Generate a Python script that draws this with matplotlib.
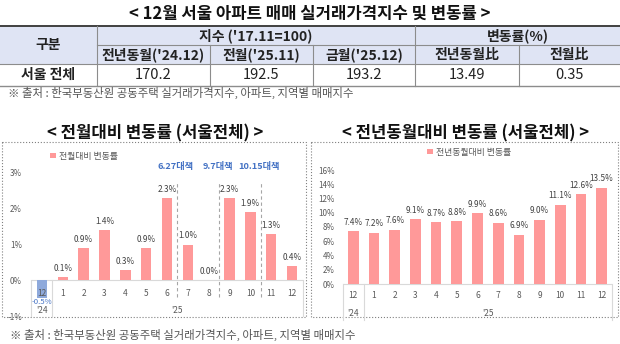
import matplotlib.pyplot as plt
from matplotlib.patches import Rectangle, Patch

plt.rcParams['font.family'] = ['Noto Sans CJK KR', 'DejaVu Sans']

# ---- data ----
months = ['12', '1', '2', '3', '4', '5', '6', '7', '8', '9', '10', '11', '12']
years = ["'24", "'25"]
mom_change = [-0.5, 0.1, 0.9, 1.4, 0.3, 0.9, 2.3, 1.0, 0.0, 2.3, 1.9, 1.3, 0.4]
yoy_change = [7.4, 7.2, 7.6, 9.1, 8.7, 8.8, 9.9, 8.6, 6.9, 9.0, 11.1, 12.6, 13.5]
policy_names = ['6.27대책', '9.7대책', '10.15대책']
policy_after = [6, 8, 10]   # index of the month right before each policy line

table_title = '< 12월 서울 아파트 매매 실거래가격지수 및 변동률 >'
table_groups = ["지수 ('17.11=100)", '변동률(%)']
table_cols = ["전년동월('24.12)", "전월('25.11)", "금월('25.12)", '전년동월比', '전월比']
table_row_label = '서울 전체'
table_values = ['170.2', '192.5', '193.2', '13.49', '0.35']
source_note = '※ 출처 : 한국부동산원 공동주택 실거래가격지수, 아파트, 지역별 매매지수'

PINK = '#FF9999'
BLUE_BAR = '#8EA9DB'
BLUE_TXT = '#4472C4'
GRAY_TXT = '#595959'
LINE = '#D9D9D9'

W, H = 620, 344
fig = plt.figure(figsize=(W / 100, H / 100), dpi=100)

# full-figure overlay in pixel coords (y down) for table, titles, boxes
ov = fig.add_axes([0, 0, 1, 1])
ov.set_xlim(0, W)
ov.set_ylim(H, 0)
ov.axis('off')


def px_axes(x0, y0, x1, y1):
    ax = fig.add_axes([x0 / W, 1 - y1 / H, (x1 - x0) / W, (y1 - y0) / H])
    ax.patch.set_visible(False)
    return ax


def px(n):  # pixels -> points
    return n * 0.72


# ---- table ----
ov.text(310, 14, table_title, ha='center', va='center', fontsize=12, fontweight='bold', color='#111111')
col_edges = [0, 97, 210, 313, 415, 519, 620]
r0, r1, r2, r3 = 26, 45, 64, 86
ov.add_patch(Rectangle((0, r0), W, r2 - r0, facecolor='#DFE4F4', edgecolor='none'))
ov.plot([0, W], [r0, r0], color='#404040', lw=1.4)
ov.plot([97, W], [r1, r1], color='#8C8C8C', lw=0.8)
ov.plot([0, W], [r2, r2], color='#8C8C8C', lw=0.8)
ov.plot([0, W], [r3, r3], color='#8C8C8C', lw=1.0)
for x in [97, 415]:
    ov.plot([x, x], [r0, r3], color='#8C8C8C', lw=0.8)
for x in [210, 313, 519]:
    ov.plot([x, x], [r1, r3], color='#8C8C8C', lw=0.8)

hdr = dict(ha='center', va='center', fontsize=10, fontweight='bold', color='#222222')
ov.text(48.5, (r0 + r2) / 2, '구분', **hdr)
ov.text((97 + 415) / 2, (r0 + r1) / 2, table_groups[0], **hdr)
ov.text((415 + 620) / 2, (r0 + r1) / 2, table_groups[1], **hdr)
for i, (name, val) in enumerate(zip(table_cols, table_values)):
    cx = (col_edges[i + 1] + col_edges[i + 2]) / 2
    ov.text(cx, (r1 + r2) / 2, name, **hdr)
    ov.text(cx, (r2 + r3) / 2, val, ha='center', va='center', fontsize=10.5, color='#222222')
ov.text(48.5, (r2 + r3) / 2, table_row_label, **hdr)
ov.text(8, 93, source_note, ha='left', va='center', fontsize=8.2, color='#555555')

# ---- chart boxes and titles ----
ov.add_patch(Rectangle((2, 142), 304, 175, facecolor='none', edgecolor='#808080', lw=0.8, ls=':'))
ov.add_patch(Rectangle((311, 142), 307, 175, facecolor='none', edgecolor='#808080', lw=0.8, ls=':'))
ov.text(155.5, 133, '< 전월대비 변동률 (서울전체) >', ha='center', va='center', fontsize=12, fontweight='bold', color='#111111')
ov.text(466, 133, '< 전년동월대비 변동률 (서울전체) >', ha='center', va='center', fontsize=12, fontweight='bold', color='#111111')
ov.text(10, 335, source_note, ha='left', va='center', fontsize=8.2, color='#555555')


def category_axis(ax, lab_off, year_off):
    n = len(months)
    ax.axhline(0, color=LINE, lw=0.8, zorder=1)
    ybot = ax.get_ylim()[0]
    for x in [-0.5, 0.5, n - 0.5]:
        ax.plot([x, x], [0, ybot], color=LINE, lw=0.8, zorder=1, clip_on=False)
    for i, m in enumerate(months):
        ax.annotate(m, (i, 0), xytext=(0, -px(lab_off)), textcoords='offset points',
                    ha='center', va='center', fontsize=6, color=GRAY_TXT, zorder=4)
    ax.annotate(years[0], (0, 0), xytext=(0, -px(year_off)), textcoords='offset points',
                ha='center', va='center', fontsize=6, color=GRAY_TXT)
    ax.annotate(years[1], (n / 2, 0), xytext=(0, -px(year_off)), textcoords='offset points',
                ha='center', va='center', fontsize=6, color=GRAY_TXT)
    ax.set_xlim(-0.5, n - 0.5)
    ax.set_xticks([])
    for s in ax.spines.values():
        s.set_visible(False)


# ---- left chart: month-on-month ----
ax1 = px_axes(31.5, 173, 302.5, 316)
ax1.set_ylim(-1, 3)
x = list(range(len(months)))
colors = [BLUE_BAR if v < 0 else PINK for v in mom_change]
ax1.bar(x, mom_change, width=0.5, color=colors, zorder=2)
category_axis(ax1, 13, 30)
ax1.set_yticks([-1, 0, 1, 2, 3])
ax1.set_yticklabels(['-1%', '0%', '1%', '2%', '3%'])
ax1.tick_params(axis='y', length=0, pad=px(9.5), labelsize=5.8, labelcolor=GRAY_TXT)
for i, v in enumerate(mom_change):
    if v < 0:
        ax1.annotate(f'{v:.1f}%', (i, v), xytext=(0, -px(4)), textcoords='offset points',
                     ha='center', va='center', fontsize=5.6, color=BLUE_TXT, zorder=5)
    else:
        ax1.annotate(f'{v:.1f}%', (i, v), xytext=(0, px(8.5)), textcoords='offset points',
                     ha='center', va='center', fontsize=5.9, color='#404040')
for name, p in zip(policy_names, policy_after):
    ax1.plot([p + 0.5, p + 0.5], [-0.48, 2.74], color='#A6A6A6', lw=0.8, ls=(0, (3, 2.5)), zorder=1)
    ax1.annotate(name, (p + 0.5, 3), xytext=(-px(1.5), px(6)), textcoords='offset points',
                 ha='center', va='center', fontsize=6.6, fontweight='bold', color=BLUE_TXT)
ax1.legend(handles=[Patch(facecolor=PINK, label='전월대비 변동률')], loc='center left',
           bbox_to_anchor=(46, 156), bbox_transform=ov.transData, frameon=False,
           handlelength=0.6, handleheight=0.6, handletextpad=0.35, borderpad=0,
           fontsize=6.4, labelcolor=GRAY_TXT)

# ---- right chart: year-on-year ----
top_px, zero_px, bot_px = 170, 284, 320
ax2 = px_axes(343, top_px, 612, bot_px)
ax2.set_ylim(-16 * (bot_px - zero_px) / (zero_px - top_px), 16)
ax2.bar(x, yoy_change, width=0.52, color=PINK, zorder=2)
category_axis(ax2, 12, 29)
ax2.set_yticks(range(0, 17, 2))
ax2.set_yticklabels([f'{t}%' for t in range(0, 17, 2)])
ax2.tick_params(axis='y', length=0, pad=px(8), labelsize=5.8, labelcolor=GRAY_TXT)
for i, v in enumerate(yoy_change):
    ax2.annotate(f'{v:.1f}%', (i, v), xytext=(0, px(9)), textcoords='offset points',
                 ha='center', va='center', fontsize=5.9, color='#404040')
ax2.legend(handles=[Patch(facecolor=PINK, label='전년동월대비 변동률')], loc='center',
           bbox_to_anchor=(469, 152), bbox_transform=ov.transData, frameon=False,
           handlelength=0.6, handleheight=0.6, handletextpad=0.35, borderpad=0,
           fontsize=6.4, labelcolor=GRAY_TXT)

fig.savefig('out.png', dpi=100)
